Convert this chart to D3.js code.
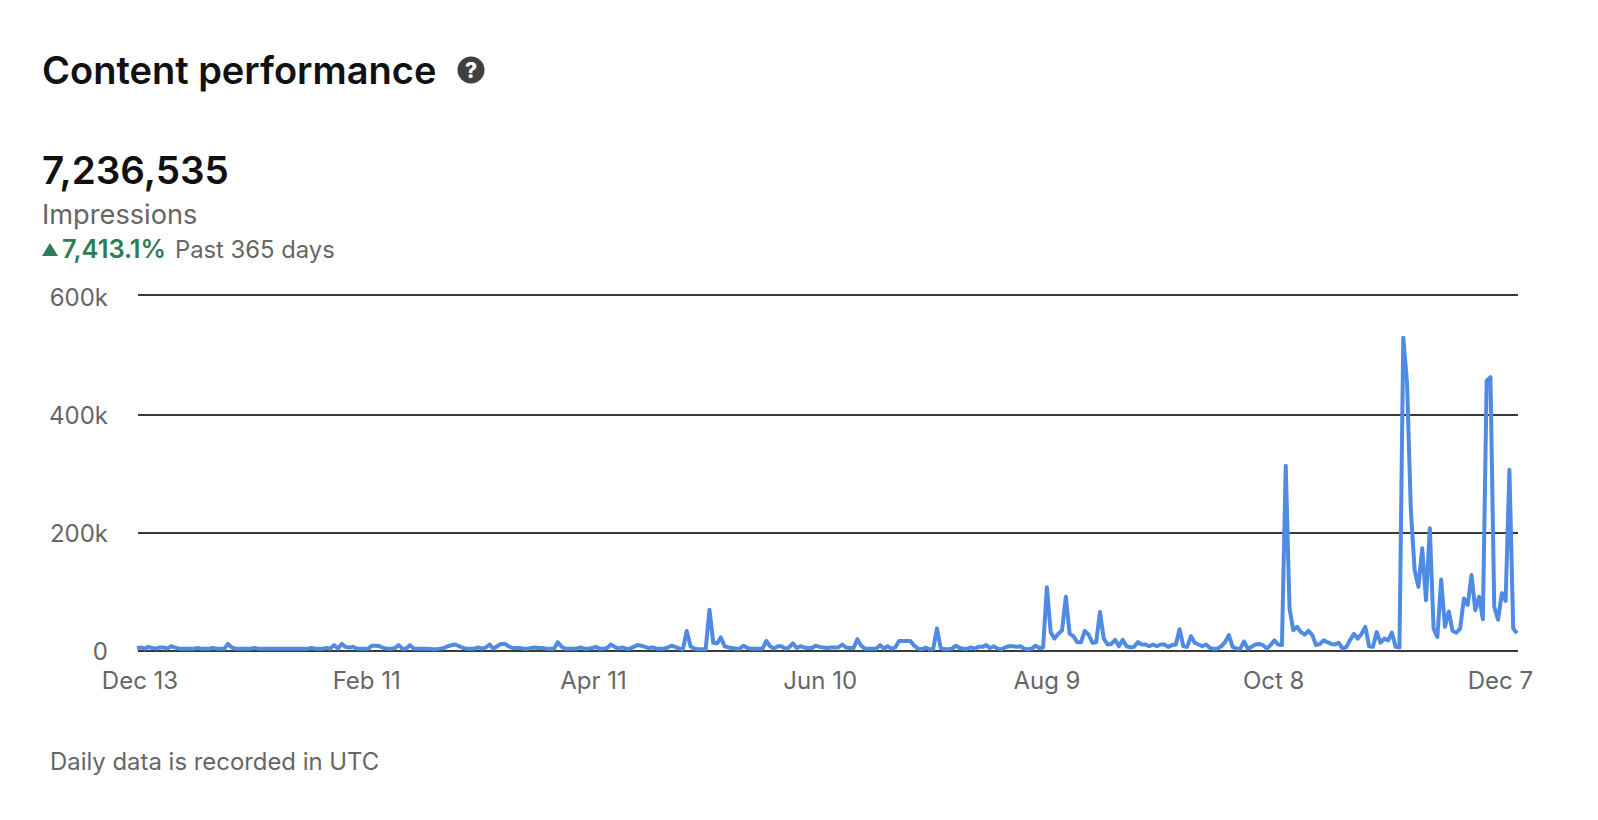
<!DOCTYPE html>
<html>
<head>
<meta charset="utf-8">
<script src="https://cdn.jsdelivr.net/npm/d3@7"></script>
<style>
  html, body { margin: 0; background: #fff; }
  svg { display: block; }
  text { font-family: Inter, "Noto Sans", sans-serif; }
</style>
</head>
<body>
<svg id="chart" width="1598" height="820"></svg>
<script>
const startDate = '2023-12-13';
const tickEvery = 60;
const yTicks = [0, 200, 400, 600];

// daily impressions in thousands
const impressions = [
  5,6,4,7,5,4,6,6,4,8,6,4,4,4,4,4,5,4,4,4,5,4,4,4,12,
  6,4,4,4,4,4,5,4,4,4,4,4,4,4,4,4,4,4,4,4,4,5,4,4,4,
  5,4,10,4,12,7,6,7,4,4,4,4,9,9,8,5,4,4,5,10,4,4,10,4,4,
  4,4,4,3,3,4,5,8,10,11,8,5,4,4,4,6,4,6,11,4,8,12,12,8,5,
  5,5,4,4,5,6,5,5,4,4,4,15,7,4,4,4,4,6,4,4,5,7,4,4,5,
  11,7,4,6,4,4,7,10,9,7,5,6,4,4,4,6,9,7,4,3,34,8,4,3,3,
  3,70,14,13,23,8,6,5,4,4,9,5,4,4,4,4,17,8,4,8,8,4,6,13,5,
  8,6,5,5,9,7,6,5,6,6,6,11,6,5,5,20,9,4,4,4,4,10,4,8,4,
  6,17,17,17,17,9,4,3,6,3,3,38,5,3,3,4,9,5,4,4,6,4,7,7,10,
  5,8,4,3,6,8,8,7,8,4,3,4,9,5,6,108,32,21,29,35,92,29,25,15,15,
  34,28,14,15,66,21,11,12,19,8,19,8,6,7,15,11,11,8,11,8,11,11,7,10,11,
  37,8,7,25,14,11,8,11,5,4,4,8,15,27,7,4,4,16,4,7,11,12,10,4,10,
  18,11,10,314,72,35,41,32,28,34,27,10,12,18,15,12,11,14,4,7,19,29,21,29,41,
  8,7,32,14,21,18,31,7,6,531,454,239,137,109,174,86,208,38,24,121,41,67,34,31,38,
  89,78,129,69,92,54,458,464,75,53,98,85,307,38,30
];

const parseDay = d3.utcParse('%Y-%m-%d');
const dates = impressions.map((d, i) => d3.utcDay.offset(parseDay(startDate), i));
const tickDates = dates.filter((d, i) => i % tickEvery === 0);

const svg = d3.select('#chart');

const x = d3.scaleUtc()
    .domain(d3.extent(dates))
    .range([137, 1517]);

// labels sit a touch inside the line's own span
const xLabels = d3.scaleUtc()
    .domain(d3.extent(dates))
    .range([139.5, 1515]);

const y = d3.scaleLinear()
    .domain([0, 600])
    .range([651, 297]);

// gridlines are not quite evenly spaced in the picture
const yGrid = d3.scaleLinear()
    .domain([0, 200, 400, 600])
    .range([651, 533, 415, 295]);

// Header
svg.append('text').attr('x', 42).attr('y', 84)
    .attr('font-size', 38).attr('font-weight', 600).attr('fill', '#111111')
    .text('Content performance');

const help = svg.append('g').attr('transform', 'translate(471,70)');
help.append('circle').attr('r', 13.5).attr('fill', '#404040');
help.append('text').attr('text-anchor', 'middle').attr('y', 7.5)
    .attr('font-size', 21).attr('font-weight', 800).attr('fill', '#fff').text('?');

svg.append('text').attr('x', 42).attr('y', 184)
    .attr('font-size', 38.6).attr('font-weight', 600).attr('fill', '#111111')
    .text('7,236,535');
svg.append('text').attr('x', 42).attr('y', 224)
    .attr('font-size', 27.2).attr('fill', '#666666')
    .text('Impressions');

svg.append('path').attr('d', 'M42,256 L50,243 L58,256 Z').attr('fill', '#2f7b55');
svg.append('text').attr('x', 62).attr('y', 258)
    .attr('font-size', 25.4).attr('font-weight', 600).attr('fill', '#2f7b55')
    .text('7,413.1%');
svg.append('text').attr('x', 175).attr('y', 258)
    .attr('font-size', 23.8).attr('fill', '#666666')
    .text('Past 365 days');

// Gridlines
const gridG = svg.append('g')
    .attr('transform', 'translate(138,0)')
    .call(d3.axisLeft(yGrid).tickValues(yTicks).tickSize(-1380).tickFormat('').offset(0));
gridG.select('.domain').remove();
gridG.selectAll('line').attr('stroke', '#3a3a3a').attr('stroke-width', 2);

// Axis labels
const yAxisG = svg.append('g')
    .attr('transform', 'translate(138,1)')
    .call(d3.axisLeft(y)
        .tickValues(yTicks)
        .tickSize(0)
        .tickPadding(30)
        .tickFormat(d => d === 0 ? '0' : d + 'k'));
yAxisG.select('.domain').remove();
yAxisG.selectAll('text').attr('font-size', 24).attr('fill', '#666666');

const xAxisG = svg.append('g')
    .attr('transform', 'translate(0,651)')
    .call(d3.axisBottom(xLabels)
        .tickValues(tickDates)
        .tickSize(0)
        .tickPadding(21)
        .tickFormat(d3.utcFormat('%b %-d')));
xAxisG.select('.domain').remove();
xAxisG.selectAll('text').attr('font-size', 24).attr('fill', '#666666');

// Line
const line = d3.line()
    .x((d, i) => x(dates[i]))
    .y(d => y(d));

svg.append('path')
    .datum(impressions)
    .attr('fill', 'none')
    .attr('stroke', '#4f8ae3')
    .attr('stroke-width', 4)
    .attr('stroke-linejoin', 'round')
    .attr('d', line);

svg.append('text').attr('x', 50).attr('y', 770)
    .attr('font-size', 23.9).attr('fill', '#666666')
    .text('Daily data is recorded in UTC');
</script>
</body>
</html>
